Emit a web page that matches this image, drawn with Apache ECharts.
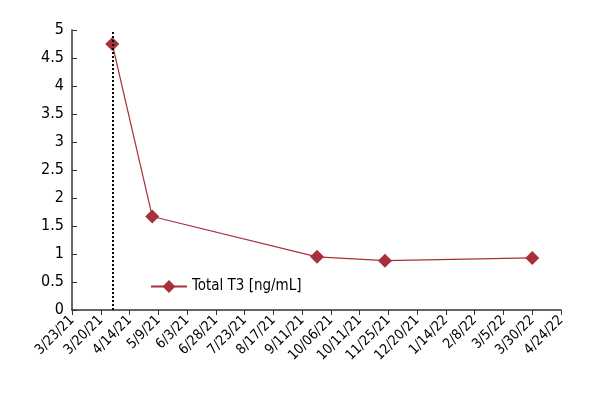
<!DOCTYPE html>
<html><head><meta charset="utf-8">
<script src="https://cdn.jsdelivr.net/npm/echarts@6/dist/echarts.min.js"></script>
<style>html,body{margin:0;background:#fff}#c{width:600px;height:400px}</style></head>
<body><div id="c"></div>
<script>
const tickLabels = ["3/23/21","3/20/21","4/14/21","5/9/21","6/3/21","6/28/21","7/23/21","8/17/21","9/11/21","10/06/21","10/11/21","11/25/21","12/20/21","1/14/22","2/8/22","3/5/22","3/30/22","4/24/22"];
const xPos = [1.4, 2.79, 8.52, 10.88, 16.0];
const t3 = [4.75, 1.67, 0.95, 0.88, 0.93];
const markerX = 1.4;
const font = "DejaVu Sans Condensed";
const chart = echarts.init(document.getElementById('c'));
chart.setOption({
  animation:false,
  textStyle:{fontFamily:font},
  grid:{left:72,right:39,top:30,bottom:90},
  legend:{left:145,top:274,itemWidth:36,itemHeight:16,textStyle:{fontSize:15,color:'#000',fontFamily:font},data:['Total T3 [ng/mL]']},
  xAxis:{type:'value',min:0,max:17,interval:1,
    axisLine:{lineStyle:{color:'#333',width:1.5}},axisTick:{inside:false,length:5,lineStyle:{color:'#333'}},
    splitLine:{show:false},
    axisLabel:{rotate:45,fontSize:14,color:'#000',margin:8,formatter:v=>tickLabels[Math.round(v)]||''}},
  yAxis:{type:'value',min:0,max:5,interval:0.5,
    axisLine:{show:true,lineStyle:{color:'#333',width:1.5}},axisTick:{show:true,inside:true,length:5,lineStyle:{color:'#333'}},
    splitLine:{show:false},axisLabel:{fontSize:16,color:'#000'}},
  series:[{name:'Total T3 [ng/mL]',type:'line',data:xPos.map((x,i)=>[x,t3[i]]),
    symbol:'diamond',symbolSize:14,lineStyle:{color:'#a8303c',width:1.2},itemStyle:{color:'#a8303c'},
    markLine:{silent:true,symbol:'none',label:{show:false},lineStyle:{color:'#000',type:[2,2],width:2},
      data:[[{coord:[markerX,0]},{coord:[markerX,5]}]]}}]
});
</script></body></html>
